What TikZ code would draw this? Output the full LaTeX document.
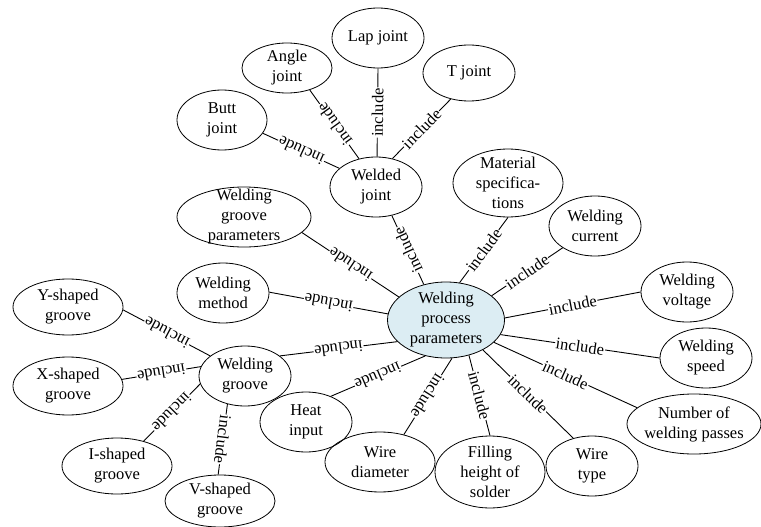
\documentclass[tikz,border=0pt]{standalone}
\usepackage{fontspec}
\setmainfont{Liberation Serif}
\usetikzlibrary{shapes.geometric}
\begin{document}
\begin{tikzpicture}[x=1pt,y=-1pt,
  bub/.style={ellipse, draw, line width=0.8pt, inner sep=0pt, minimum width=92pt, minimum height=60pt},
  txt/.style={align=center, font=\fontsize{16.5}{20}\selectfont, inner sep=0pt},
  link/.style={line width=0.9pt},
  inc/.style={midway, sloped, allow upside down, fill=white, inner sep=0.8pt, font=\fontsize{16.5}{18}\selectfont}]
\useasboundingbox (0,0) rectangle (761,527);

% hub
\node[bub, fill={rgb,255:red,220;green,237;blue,243}, minimum width=117pt, minimum height=76pt,
      label={[txt]center:Welding\\process\\parameters}] (c) at (446,320) {};

% welded joint branch
\node[bub, label={[txt]center:Welded\\joint}] (wj) at (376,187) {};
\node[bub, label={[txt]center:Lap joint}] (lap) at (378,38) {};
\node[bub, minimum width=90pt, minimum height=50pt, label={[txt]center:Angle\\joint}] (ang) at (287,68) {};
\node[bub, minimum height=56pt, label={[txt]center:T joint}] (tj) at (469,73) {};
\node[bub, minimum width=90pt, label={[txt]center:Butt\\joint}] (butt) at (222,120) {};

% direct parameters
\node[bub, minimum width=134pt, label={[txt]center:Welding\\groove\\parameters}] (wgp) at (244,217) {};
\node[bub, minimum width=110pt, minimum height=68pt, label={[txt]center:Material\\specifica-\\tions}] (mat) at (508,183) {};
\node[bub, label={[txt]center:Welding\\current}] (cur) at (595,226) {};
\node[bub, label={[txt]center:Welding\\voltage}] (volt) at (687,292) {};
\node[bub, label={[txt]center:Welding\\speed}] (spd) at (706,358) {};
\node[bub, minimum width=134pt, label={[txt]center:Number of\\welding passes}] (pass) at (694,424) {};
\node[bub, label={[txt]center:Welding\\method}] (meth) at (223,293) {};
\node[bub, label={[txt]center:Heat\\input}] (heat) at (306,422) {};
\node[bub, minimum width=110pt, label={[txt]center:Wire\\diameter}] (wd) at (380,462) {};
\node[bub, minimum width=110pt, minimum height=72pt, label={[txt]center:Filling\\height of\\solder}] (fill) at (490,472) {};
\node[bub, label={[txt]center:Wire\\type}] (wt) at (592,466) {};

% welding groove branch
\node[bub, label={[txt]center:Welding\\groove}] (wg) at (245,376) {};
\node[bub, minimum width=110pt, minimum height=56pt, label={[txt]center:Y-shaped\\groove}] (ys) at (68,307) {};
\node[bub, minimum width=110pt, minimum height=58pt, label={[txt]center:X-shaped\\groove}] (xs) at (68,386) {};
\node[bub, minimum width=110pt, minimum height=56pt, label={[txt]center:I-shaped\\groove}] (is) at (117,466) {};
\node[bub, minimum width=110pt, minimum height=52pt, label={[txt]center:V-shaped\\groove}] (vs) at (220,501) {};

% connectors: source.angle / target.angle on the ellipse borders
\foreach \a/\p/\b/\q in {wj/88/lap/-90, wj/121/ang/-44, wj/60/tj/-125, wj/153/butt/-18,
                   c/122/wj/-61, c/154/wgp/-15, c/70/mat/-90, c/28/cur/214,
                   c/2/volt/180, c/-15/spd/180, c/-25/pass/164,
                   c/174/meth/1, c/204/wg/30, c/240/heat/46, c/-81/wd/49,
                   c/-57/fill/90, c/-39/wt/124,
                   wg/150/ys/-3, wg/168/xs/7, wg/190/is/43, wg/238/vs/94}
  \draw[link] (\a.\p) -- node[inc]{include} (\b.\q);
\end{tikzpicture}
\end{document}
